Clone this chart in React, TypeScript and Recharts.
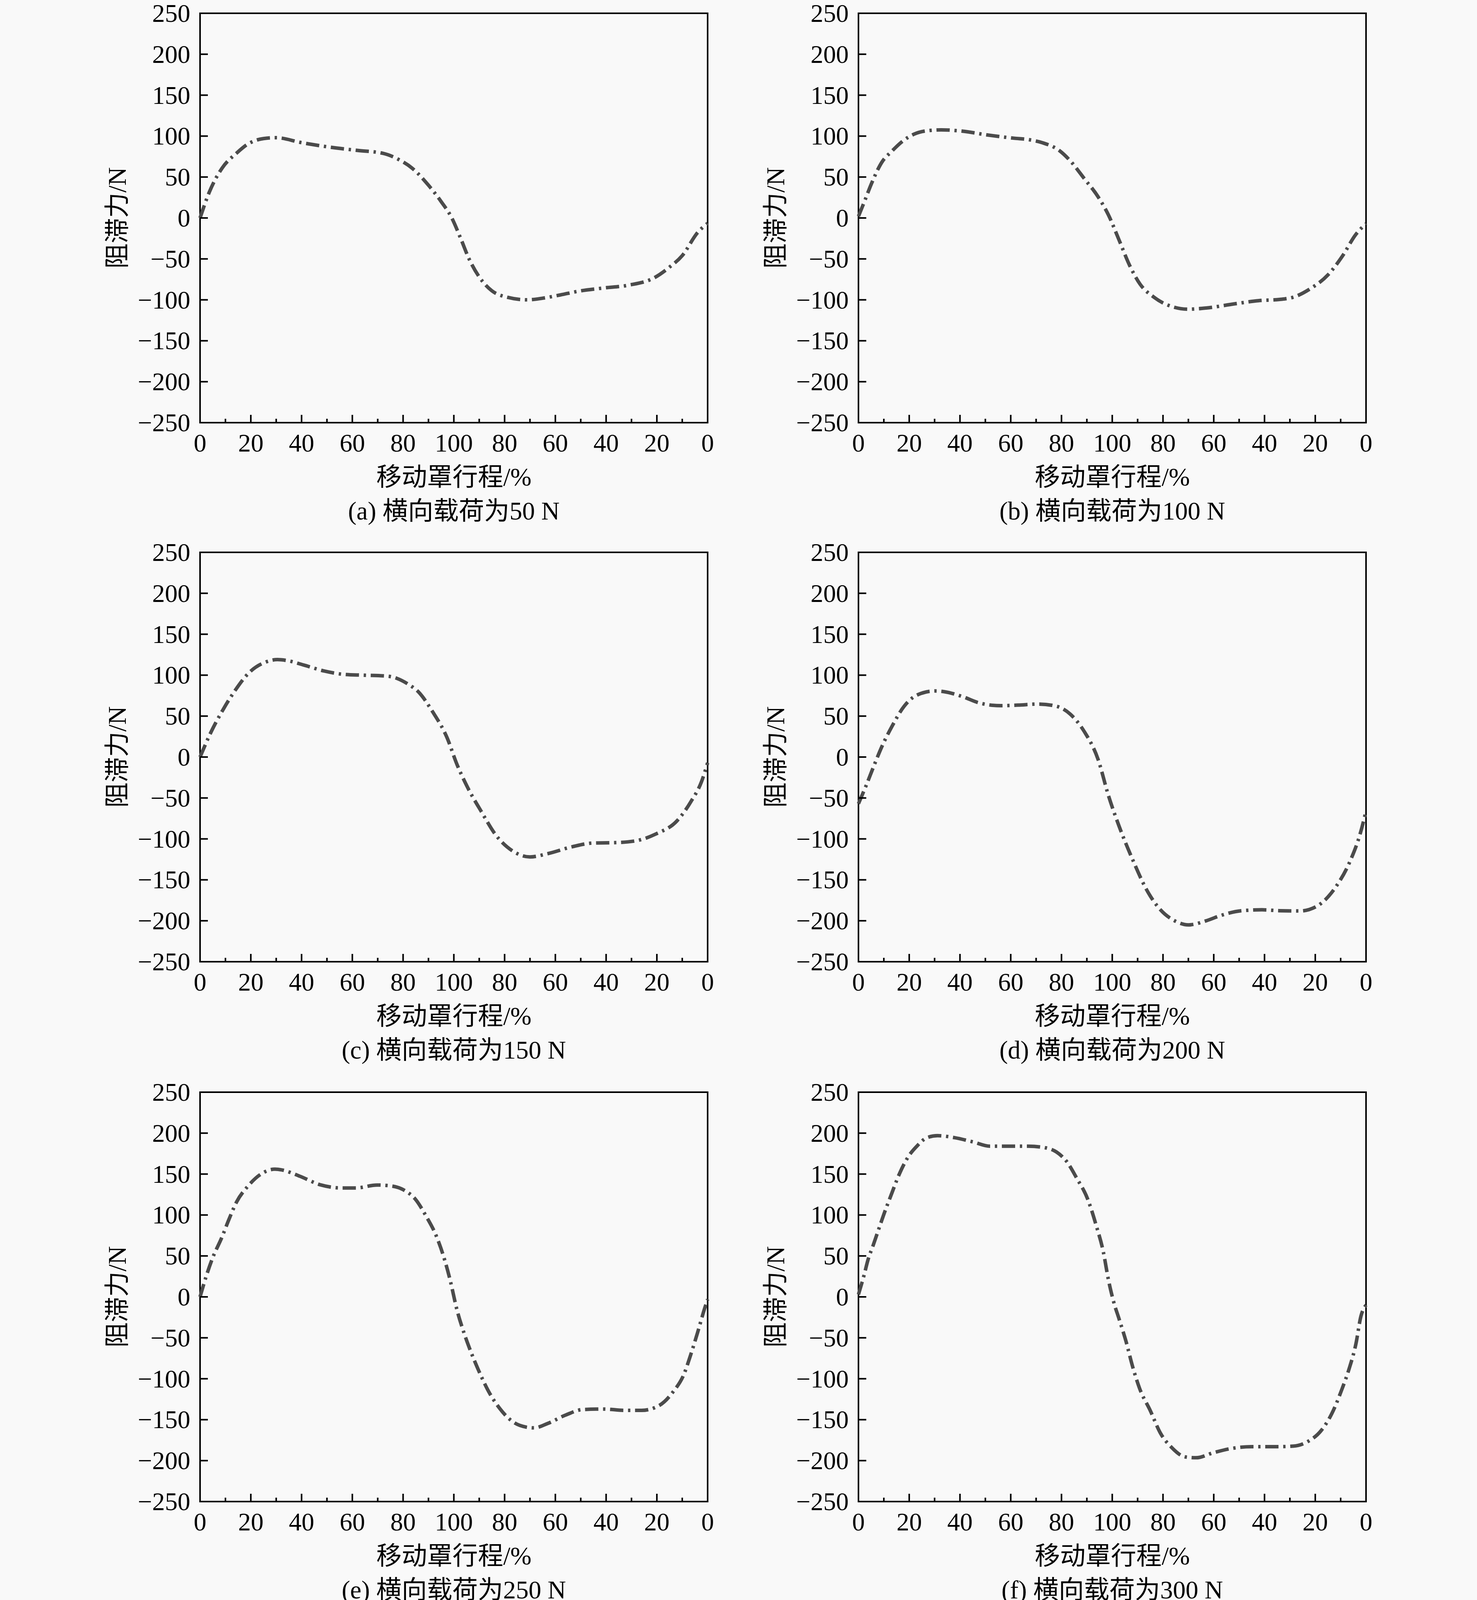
import React from 'react';
import { LineChart, Line, XAxis, YAxis, ReferenceArea } from 'recharts';

// travel goes 0 -> 100 -> 0, stored as 0..200 along the path
const travelA = [0, 3.7, 8.7, 14.5, 18.7, 25, 30, 40, 50, 62, 72, 78.5, 83.5, 90, 95, 99.3, 102.7, 106, 110, 115, 120, 129, 135, 142, 149, 159, 169, 179, 185, 190, 196, 200];
const forceA = [0, 32, 61, 79.5, 90, 97, 98, 92, 87, 82.5, 79, 71, 61, 40, 20, -0.6, -25, -50, -72, -89, -96, -100, -98, -94, -89.5, -85.5, -82, -73, -60, -46, -18, -6.5];

const travelB = [0, 2.6, 5, 9.2, 13.3, 17.5, 22, 28.5, 32.6, 41, 50.5, 61.4, 67, 72.4, 79.3, 83.4, 89, 94.4, 98.5, 102.7, 106.8, 111, 116.4, 123.3, 130, 137, 148, 157.6, 166, 171.4, 178, 185, 190.6, 196, 200];
const forceB = [2, 22, 41, 68, 82, 94, 102.5, 107, 107.6, 106, 101.5, 97.4, 95.7, 92, 82, 70, 48, 26, 3.7, -27, -57.6, -81, -96.7, -108, -111.4, -110, -105, -101, -99.5, -96.7, -86.5, -69.5, -47, -20, -7];

const travelC = [0, 4.4, 9.2, 13.3, 19.5, 25.7, 30.5, 34, 40.8, 49, 57.3, 64, 73.8, 82, 86, 91.7, 97.2, 101.3, 105.4, 111, 116.4, 123.3, 130, 137, 146.7, 155, 163, 171.4, 179.6, 188, 193.5, 197.6, 200];
const forceC = [0, 31, 58.6, 79, 103.6, 115.8, 119, 118, 112.4, 105, 100.8, 100, 98.8, 89, 79.7, 55, 24.5, -9.5, -37, -67.5, -94.7, -115, -122, -118, -109.5, -105, -104.6, -102.5, -94, -77.7, -54, -30, -7];

const travelD = [0, 3, 5.8, 9.2, 13.3, 18, 23, 30, 34, 40.8, 47.7, 56, 62.8, 71, 78, 83.4, 89, 94.4, 98.5, 102.7, 108, 113.7, 119, 124.6, 130, 137, 142.5, 151, 159, 166, 174, 181, 188, 193.5, 197.6, 200];
const forceD = [-57, -35, -13, 12.6, 38, 62, 75.6, 80.7, 79.7, 74, 66, 62.7, 63.4, 64.7, 62, 52.5, 31, -2.7, -47, -84.5, -125, -163, -186.6, -200, -205, -200, -193.8, -187.7, -186.6, -187.7, -188, -181.5, -159, -128.7, -94.7, -66];

const travelE = [0, 2.3, 5, 8.5, 11.3, 14.4, 18.8, 24, 29.5, 32.3, 39.2, 47.7, 56, 61.4, 69.7, 75, 80.7, 84.8, 89, 93, 95.8, 98.5, 101.3, 104, 106.8, 109.5, 113.7, 118, 122, 126, 131.5, 137, 144, 150.8, 159, 167.3, 174, 181, 186.5, 190.6, 193.3, 196, 198.9, 200];
const forceE = [0, 24, 48, 72, 94, 116, 135, 150, 156, 155, 147.5, 136.6, 133, 133, 136.6, 135.6, 129.8, 119.5, 99, 75, 51, 21, -16.7, -44, -67.8, -88, -115.5, -136, -149.5, -157, -160, -154.6, -144.4, -137.6, -137, -138.6, -138.6, -132.5, -115.5, -95, -71, -44, -13.3, -3];

const travelF = [0, 2.3, 3.7, 5.8, 7.9, 10, 12.7, 16.1, 19.5, 23, 27, 31.2, 37.8, 45, 51.8, 58.7, 67, 73.8, 78, 82, 86, 90.3, 93.7, 96.5, 98.5, 100.6, 102.7, 105.4, 108, 110.8, 115, 119, 123.3, 128.8, 133, 139.8, 146.7, 155, 164.5, 171.4, 177, 182.4, 186.5, 190.6, 193.3, 196, 198, 200];
const forceF = [3, 27.6, 44.6, 63, 82, 100.8, 123, 150, 170.6, 184, 194.5, 196.9, 194.5, 189.4, 184, 184, 184, 182, 177, 165.5, 145, 119.6, 87, 54.8, 20.8, -6.5, -27, -54, -84.8, -112, -139, -166.5, -183.6, -195.5, -196.5, -190.4, -185.3, -183, -183, -182.3, -176.8, -163, -142.7, -112, -88.2, -57.6, -23.5, -10];

const captions = ['(a) 横向载荷为50 N', '(b) 横向载荷为100 N', '(c) 横向载荷为150 N', '(d) 横向载荷为200 N', '(e) 横向载荷为250 N', '(f) 横向载荷为300 N'];
const xTicks = [0, 10, 20, 30, 40, 50, 60, 70, 80, 90, 100, 110, 120, 130, 140, 150, 160, 170, 180, 190, 200];
const yTicks = [-250, -200, -150, -100, -50, 0, 50, 100, 150, 200, 250];
const yTitle = '阻滞力/N';
const xTitle = '移动罩行程/%';

const FONT = "'Liberation Serif', 'Times New Roman', 'Noto Sans CJK SC', serif";
const BG = '#f9f9f9';
const INK = '#000';

const panels = [
  { travel: travelA, force: forceA },
  { travel: travelB, force: forceB },
  { travel: travelC, force: forceC },
  { travel: travelD, force: forceD },
  { travel: travelE, force: forceE },
  { travel: travelF, force: forceF },
];

const PLOT_LEFT = [512, 2197];
const PLOT_TOP = [34, 1414, 2796];
const PW = 1299;
const PH = 1048;
const ML = 280;
const MT = 80;
const CW = 1620;
const CH = 1426;
const AXW = 120; // reserved width of y axis
const AXH = 120; // reserved height of x axis

const fmtX = (v: number) => String(v <= 100 ? v : 200 - v);
const fmtY = (v: number) => (v < 0 ? '\u2212' + Math.abs(v) : String(v));

const XTick = (p: any) => {
  const v = p.payload.value;
  const major = v % 20 === 0;
  return (
    <g>
      <line x1={p.x} x2={p.x} y1={p.y} y2={p.y - (major ? 20 : 10)} stroke={INK} strokeWidth={4} />
      {major && (
        <text x={p.x} y={p.y + 74} textAnchor="middle" fontSize={65} fontFamily={FONT} fill={INK}>
          {fmtX(v)}
        </text>
      )}
    </g>
  );
};

const YTick = (p: any) => (
  <g>
    <line x1={p.x} x2={p.x + 20} y1={p.y} y2={p.y} stroke={INK} strokeWidth={4} />
    <text x={p.x - 25} y={p.y + 22} textAnchor="end" fontSize={65} fontFamily={FONT} fill={INK}>
      {fmtY(p.payload.value)}
    </text>
  </g>
);

const Panel = ({ idx }: { idx: number }) => {
  const { travel, force } = panels[idx];
  const data = travel.map((x, i) => ({ x, f: force[i] }));
  const left = PLOT_LEFT[idx % 2] - ML;
  const top = PLOT_TOP[Math.floor(idx / 2)] - MT;
  const cx = ML + PW / 2;
  return (
    <div style={{ position: 'absolute', left, top, width: CW, height: CH }}>
      <LineChart
        width={CW}
        height={CH}
        data={data}
        margin={{ top: MT, right: CW - ML - PW, bottom: CH - MT - PH - AXH, left: ML - AXW }}
      >
        <XAxis
          dataKey="x"
          type="number"
          domain={[0, 200]}
          ticks={xTicks}
          interval={0}
          height={AXH}
          axisLine={false}
          tickLine={false}
          tickSize={0}
          tickMargin={0}
          tick={<XTick />}
        />
        <YAxis
          type="number"
          domain={[-250, 250]}
          ticks={yTicks}
          interval={0}
          width={AXW}
          axisLine={false}
          tickLine={false}
          tickSize={0}
          tickMargin={0}
          tick={<YTick />}
        />
        <ReferenceArea x1={0} x2={200} y1={-250} y2={250} fill="none" stroke={INK} strokeWidth={4} />
        <Line
          dataKey="f"
          type="monotone"
          stroke="#4b4b4b"
          strokeWidth={9}
          strokeDasharray="34 12 6 12"
          dot={false}
          isAnimationActive={false}
        />
      </LineChart>
      <div
        style={{
          position: 'absolute', left: 68 - 300, top: MT + PH / 2 - 40, width: 600, height: 80,
          lineHeight: '80px', textAlign: 'center', fontSize: 65, fontFamily: FONT,
          transform: 'rotate(-90deg)', color: INK,
        }}
      >
        {yTitle}
      </div>
      <div
        style={{
          position: 'absolute', left: cx - 500, top: MT + 1187 - 40, width: 1000, height: 80,
          lineHeight: '80px', textAlign: 'center', fontSize: 65, fontFamily: FONT, color: INK,
        }}
      >
        {xTitle}
      </div>
      <div
        style={{
          position: 'absolute', left: cx - 500, top: MT + 1274 - 40, width: 1000, height: 80,
          lineHeight: '80px', textAlign: 'center', fontSize: 65, fontFamily: FONT, color: INK,
        }}
      >
        {captions[idx]}
      </div>
    </div>
  );
};

export default function App() {
  return (
    <div style={{ position: 'absolute', left: 0, top: 0, width: 3780, height: 4111, background: BG, overflow: 'hidden' }}>
      {[0, 1, 2, 3, 4, 5].map((i) => (
        <Panel key={i} idx={i} />
      ))}
    </div>
  );
}
